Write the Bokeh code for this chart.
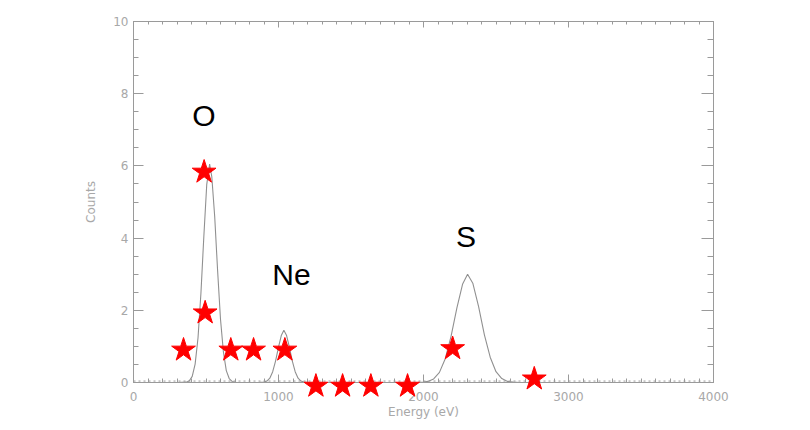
import math
from bokeh.plotting import figure
from bokeh.models import Range1d, LinearAxis, SingleIntervalTicker, Label
from bokeh.embed import file_html
from bokeh.resources import INLINE

# ---- data ----
# model spectrum (energy in eV, counts)
curve_energy = [0, 300, 365, 385, 405, 425, 445, 465, 485, 505, 525, 540, 560, 580, 600,
                620, 640, 660, 680, 710, 860, 900, 920, 940, 960, 980, 1000, 1020, 1037,
                1055, 1075, 1095, 1115, 1135, 1155, 1175, 1200, 1960, 2000, 2030, 2070,
                2110, 2150, 2190, 2230, 2270, 2304, 2340, 2380, 2420, 2460, 2500, 2540,
                2580, 2620, 2660, 4000]
curve_counts = [0, 0, 0.01, 0.05, 0.17, 0.51, 1.24, 2.47, 4.04, 5.48, 6.05, 5.70, 4.60, 3.10,
                1.75, 0.85, 0.33, 0.11, 0.03, 0, 0, 0.01, 0.04, 0.12, 0.30, 0.60, 0.98,
                1.31, 1.45, 1.31, 0.98, 0.60, 0.30, 0.12, 0.04, 0.01, 0, 0, 0.01, 0.03,
                0.10, 0.28, 0.66, 1.28, 2.06, 2.73, 3.0, 2.75, 2.10, 1.32, 0.70, 0.30,
                0.11, 0.03, 0.01, 0, 0]

# measured points (stars)
star_energy = [487, 494, 345, 671, 828, 1044, 1258, 1442, 1637, 1890, 2201, 2764]
star_counts = [5.83, 1.93, 0.90, 0.90, 0.90, 0.90, -0.10, -0.10, -0.10, -0.10, 0.94, 0.10]

# element labels
elem_names = ["O", "Ne", "S"]
elem_energy = [485, 1089, 2293]
elem_counts = [7.40, 2.98, 4.04]

# arrowheads of the slide's connector lines (canvas pixels, top of the picture)
arrow_px = [150, 699]
arrow_py = [5, 5]
arrow_angle = [2.1, 0.0]
arrow_glyph = ["\u25b2", "\u25bc"]

x_label = "Energy (eV)"
y_label = "Counts"
x_ticks_interval = 1000
y_ticks_interval = 2

AXIS_COL = "#9a9a9a"
LABEL_COL = "#a8a8a8"

p = figure(width=810, height=430, output_backend="svg", toolbar_location=None,
           x_range=Range1d(0, 4000), y_range=Range1d(0, 10),
           min_border_left=133, min_border_right=97, min_border_top=21,
           min_border_bottom=48, x_axis_label=x_label, y_axis_label=y_label)
p.background_fill_color = "white"
p.border_fill_color = "white"
p.outline_line_color = AXIS_COL
p.xgrid.visible = False
p.ygrid.visible = False

def style_axis(ax, tin, mtin, labels=True):
    ax.axis_line_color = AXIS_COL
    ax.major_tick_line_color = AXIS_COL
    ax.minor_tick_line_color = AXIS_COL
    ax.major_tick_in = tin
    ax.major_tick_out = 0
    ax.minor_tick_in = mtin
    ax.minor_tick_out = 0
    ax.major_label_text_font = "DejaVu Sans"
    ax.major_label_text_font_size = "12px" if labels else "8px"
    ax.major_label_text_color = LABEL_COL if labels else None
    ax.axis_label_text_font = "DejaVu Sans"
    ax.axis_label_text_font_size = "12px"
    ax.axis_label_text_font_style = "normal"
    ax.axis_label_text_color = LABEL_COL

xa = p.xaxis[0]
xa.ticker = SingleIntervalTicker(interval=x_ticks_interval, num_minor_ticks=10)
style_axis(xa, 8, 4)
xa.major_label_standoff = 9
xa.axis_label_standoff = 1

ya = p.yaxis[0]
ya.ticker = SingleIntervalTicker(interval=y_ticks_interval, num_minor_ticks=4)
style_axis(ya, 10, 5)
ya.major_label_standoff = 5
ya.axis_label_standoff = 12

top = LinearAxis(ticker=SingleIntervalTicker(interval=x_ticks_interval, num_minor_ticks=10))
style_axis(top, 6, 3, labels=False)
top.major_label_standoff = 0
p.add_layout(top, "above")

right = LinearAxis(ticker=SingleIntervalTicker(interval=y_ticks_interval, num_minor_ticks=4))
style_axis(right, 12, 6, labels=False)
right.major_label_standoff = 0
p.add_layout(right, "right")

# baseline texture
p.line([0, 4000], [0.04, 0.04], line_color="#9a9a9a", line_width=1, line_dash="2 3")
# spectrum curve
p.line(curve_energy, curve_counts, line_color="#909090", line_width=1.1)
# stars (drawn on the overlay level so those sitting on the axis are not cut)
p.scatter(star_energy, star_counts, marker="star", size=25,
          fill_color="#ff0000", line_color="#ff0000", level="overlay")

for name, ex, ey in zip(elem_names, elem_energy, elem_counts):
    p.add_layout(Label(x=ex, y=ey, text=name, text_font="Liberation Sans",
                       text_font_size="30px", text_color="black",
                       text_align="center", text_baseline="middle"))

# arrowheads
for g, ax_, ay_, an_ in zip(arrow_glyph, arrow_px, arrow_py, arrow_angle):
    p.add_layout(Label(x=ax_, y=ay_, x_units="canvas", y_units="canvas", text=g,
                       angle=an_, text_font="DejaVu Sans", text_font_size="10px",
                       text_color="black", text_align="center",
                       text_baseline="middle", level="overlay"))

open("out.html", "w").write(file_html(p, INLINE))
